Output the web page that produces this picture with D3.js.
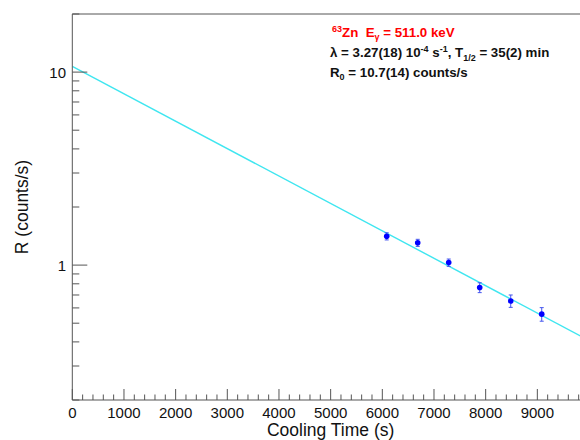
<!DOCTYPE html>
<html><head><meta charset="utf-8">
<script src="https://cdn.jsdelivr.net/npm/d3@7"></script>
<style>body{margin:0;background:#fff;}svg{display:block;font-family:"Liberation Sans",Arial,Helvetica,sans-serif;}</style>
</head><body>
<script>
const times = [6085, 6685, 7285, 7885, 8485, 9085];
const rates = [1.41, 1.305, 1.03, 0.765, 0.652, 0.557];
const errors = [0.06, 0.055, 0.045, 0.045, 0.048, 0.045];
const xTicks = [0,1000,2000,3000,4000,5000,6000,7000,8000,9000];
const yMajor = [1, 10];
const fitR0 = 10.7, fitLambda = 3.27e-4;
const fitRange = [0, 10000];

const W = 580, H = 440;
const svg = d3.select("body").append("svg").attr("width", W).attr("height", H);
const x = d3.scaleLinear().domain([0, 10000]).range([72.3, 589]);
const y = d3.scaleLog().domain([0.2, 20]).range([400, 14]);
const axisCol = "#555";

// frame lines
svg.append("line").attr("x1", x(0)).attr("x2", W).attr("y1", 14).attr("y2", 14).attr("stroke", axisCol);

// clip for plot content
svg.append("clipPath").attr("id","clip").append("rect").attr("x", x(0)).attr("y", 14).attr("width", W).attr("height", 386);

// fit line
const fitPts = fitRange.map(t => [t, fitR0*Math.exp(-fitLambda*t)]);
svg.append("path").attr("clip-path","url(#clip)")
  .attr("d", d3.line().x(d=>x(d[0])).y(d=>y(d[1]))(fitPts))
  .attr("stroke", "#3fe6f0").attr("stroke-width", 1.4).attr("fill","none");

// x axis
const minorX = d3.range(0, 10001, 200).filter(v => v % 1000 !== 0);
const gx = svg.append("g");
gx.append("line").attr("x1", x(0)).attr("x2", W).attr("y1", 400).attr("y2", 400).attr("stroke", axisCol);
gx.selectAll(".mj").data(xTicks).join("line").attr("x1", d=>x(d)).attr("x2", d=>x(d)).attr("y1", 400).attr("y2", 389).attr("stroke", axisCol);
gx.selectAll(".mn").data(minorX).join("line").attr("x1", d=>x(d)).attr("x2", d=>x(d)).attr("y1", 400).attr("y2", 394.5).attr("stroke", axisCol);
gx.selectAll("text").data(xTicks).join("text").attr("x", d=>x(d)).attr("y", 418).attr("text-anchor","middle")
  .attr("font-size", 15).attr("fill","#111").text(d=>d);
svg.append("text").attr("x", 330.6).attr("y", 436).attr("text-anchor","middle").attr("font-size", 17.5).attr("fill","#111").text("Cooling Time (s)");

// y axis
const minorY = [0.2,0.3,0.4,0.5,0.6,0.7,0.8,0.9,2,3,4,5,6,7,8,9,20];
const gy = svg.append("g");
gy.append("line").attr("x1", x(0)).attr("x2", x(0)).attr("y1", 14).attr("y2", 400).attr("stroke", axisCol);
gy.selectAll(".mj").data(yMajor).join("line").attr("x1", x(0)).attr("x2", x(0)+15).attr("y1", d=>y(d)).attr("y2", d=>y(d)).attr("stroke", axisCol);
gy.selectAll(".mn").data(minorY).join("line").attr("x1", x(0)).attr("x2", x(0)+7).attr("y1", d=>y(d)).attr("y2", d=>y(d)).attr("stroke", axisCol);
gy.selectAll("text").data(yMajor).join("text").attr("x", 66).attr("y", d=>y(d)+5.5).attr("text-anchor","end")
  .attr("font-size", 15).attr("fill","#111").text(d=>d);
svg.append("text").attr("transform","translate(28,207) rotate(-90)").attr("text-anchor","middle").attr("font-size", 17.5).attr("fill","#111").text("R (counts/s)");

// data points with error bars
const pts = times.map((t,i)=>({t, r: rates[i], e: errors[i]}));
const gp = svg.append("g");
gp.selectAll(".eb").data(pts).join("line").attr("x1", d=>x(d.t)).attr("x2", d=>x(d.t)).attr("y1", d=>y(d.r+d.e)).attr("y2", d=>y(d.r-d.e)).attr("stroke","#4455ee").attr("stroke-width",1);
gp.selectAll(".ct").data(pts).join("line").attr("x1", d=>x(d.t)-2).attr("x2", d=>x(d.t)+2).attr("y1", d=>y(d.r+d.e)).attr("y2", d=>y(d.r+d.e)).attr("stroke","#4455ee").attr("stroke-width",1);
gp.selectAll(".cb").data(pts).join("line").attr("x1", d=>x(d.t)-2).attr("x2", d=>x(d.t)+2).attr("y1", d=>y(d.r-d.e)).attr("y2", d=>y(d.r-d.e)).attr("stroke","#4455ee").attr("stroke-width",1);
gp.selectAll("circle").data(pts).join("circle").attr("cx", d=>x(d.t)).attr("cy", d=>y(d.r)).attr("r", 2.8).attr("fill","#0000ff");

// annotation text
const fs = 13.3;
const t1 = svg.append("text").attr("x", 332).attr("y", 37).attr("font-size", fs).attr("font-weight","bold").attr("fill","#ff0000");
t1.append("tspan").attr("font-size", 9).attr("dy", -5).text("63");
t1.append("tspan").attr("dy", 5).text("Zn\u00a0\u00a0E");
t1.append("tspan").attr("font-size", 9).attr("dy", 3).text("γ");
t1.append("tspan").attr("dy", -3).text(" = 511.0 keV");

const t2 = svg.append("text").attr("x", 330).attr("y", 57).attr("font-size", fs).attr("font-weight","bold").attr("fill","#111");
t2.append("tspan").text("λ = 3.27(18) 10");
t2.append("tspan").attr("font-size", 9).attr("dy", -5).text("-4");
t2.append("tspan").attr("dy", 5).text(" s");
t2.append("tspan").attr("font-size", 9).attr("dy", -5).text("-1");
t2.append("tspan").attr("dy", 5).text(", T");
t2.append("tspan").attr("font-size", 9).attr("dy", 4).text("1/2");
t2.append("tspan").attr("dy", -4).text(" = 35(2) min");

const t3 = svg.append("text").attr("x", 330).attr("y", 77).attr("font-size", fs).attr("font-weight","bold").attr("fill","#111");
t3.append("tspan").text("R");
t3.append("tspan").attr("font-size", 9).attr("dy", 3).text("0");
t3.append("tspan").attr("dy", -3).text(" = 10.7(14) counts/s");
</script>
</body></html>
